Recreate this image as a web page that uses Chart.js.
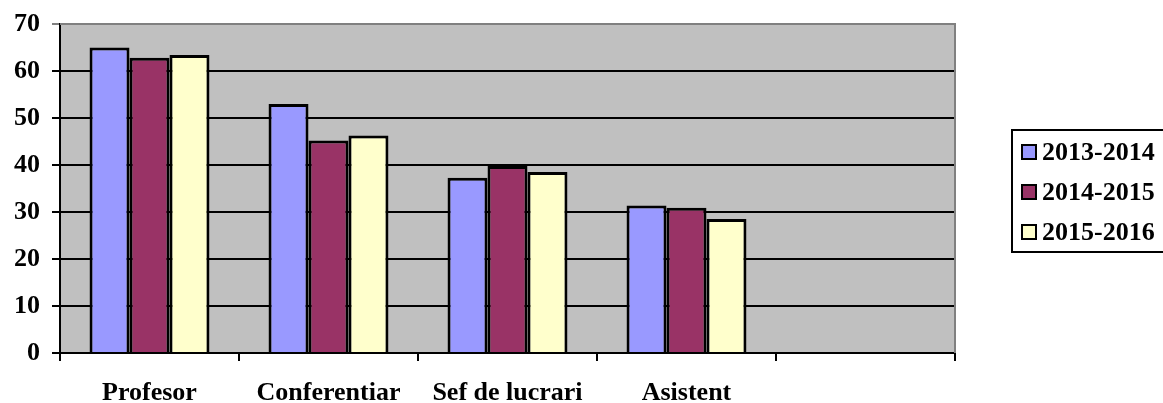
<!DOCTYPE html>
<html>
<head>
<meta charset="utf-8">
<title>Personal didactic</title>
<script src="https://cdn.jsdelivr.net/npm/chart.js@4.4.0/dist/chart.umd.min.js"></script>
<style>
    html, body { margin: 0; padding: 0; background: #fff; }
    #wrap { width: 1163px; height: 403px; position: relative; }
</style>
</head>
<body>
<div id="wrap"><canvas id="chart"></canvas></div>
<script>
// Data
const categories = ['Profesor', 'Conferentiar', 'Sef de lucrari', 'Asistent', ''];
const years = ['2013-2014', '2014-2015', '2015-2016'];
const values2013 = [65.0, 53.0, 37.3, 31.4];
const values2014 = [62.8, 45.2, 39.8, 30.9];
const values2015 = [63.4, 46.3, 38.5, 28.5];
const colors = ['#9999FF', '#993366', '#FFFFCC'];
const yTicks = [0, 10, 20, 30, 40, 50, 60, 70];

const FONT = { family: '"Liberation Serif", "DejaVu Serif", serif', size: 26, weight: 'bold' };

// gray plot background plus the gray frame on top/right
const plotArea = {
    id: 'plotArea',
    beforeDraw(chart) {
        const { ctx, chartArea: a } = chart;
        ctx.save();
        ctx.fillStyle = '#C0C0C0';
        ctx.fillRect(a.left, a.top, a.right - a.left, a.bottom - a.top);
        ctx.restore();
    },
    afterDatasetsDraw(chart) {
        const { ctx, chartArea: a } = chart;
        ctx.save();
        ctx.strokeStyle = '#808080';
        ctx.lineWidth = 2;
        ctx.beginPath();
        ctx.moveTo(a.left, a.top);
        ctx.lineTo(a.right, a.top);
        ctx.lineTo(a.right, a.bottom);
        ctx.stroke();
        ctx.restore();
    }
};

// boxed legend at the right, drawn by hand
const boxLegend = {
    id: 'boxLegend',
    afterDraw(chart) {
        const ctx = chart.ctx;
        ctx.save();
        ctx.fillStyle = '#fff';
        ctx.strokeStyle = '#000';
        ctx.lineWidth = 2;
        ctx.fillRect(1012, 130, 160, 122);
        ctx.strokeRect(1012, 130, 160, 122);
        ctx.font = `bold ${FONT.size}px ${FONT.family}`;
        ctx.textBaseline = 'middle';
        chart.data.datasets.forEach((ds, i) => {
            const cy = 152 + i * 40;
            ctx.fillStyle = ds.backgroundColor;
            ctx.fillRect(1022, cy - 7, 14, 14);
            ctx.strokeStyle = '#000';
            ctx.lineWidth = 2;
            ctx.strokeRect(1022, cy - 7, 14, 14);
            ctx.fillStyle = '#000';
            ctx.fillText(ds.label, 1042, cy + 1);
        });
        ctx.restore();
    }
};

const seriesValues = [values2013, values2014, values2015];

new Chart(document.getElementById('chart'), {
    type: 'bar',
    data: {
        labels: categories,
        datasets: years.map((y, i) => ({
            label: y,
            data: seriesValues[i],
            backgroundColor: colors[i],
            borderColor: '#000',
            borderWidth: 3,
            barPercentage: 1,
            categoryPercentage: 0.67
        }))
    },
    options: {
        responsive: true,
        maintainAspectRatio: false,
        animation: false,
        layout: { padding: { top: 24, right: 208, left: 0, bottom: 0 } },
        plugins: {
            legend: { display: false },
            tooltip: { enabled: false }
        },
        scales: {
            x: {
                afterFit(scale) { scale.height = 50; },
                grid: {
                    offset: true,
                    drawOnChartArea: false,
                    drawTicks: true,
                    tickLength: 8,
                    color: '#000',
                    lineWidth: 2
                },
                border: { display: true, color: '#000', width: 2 },
                ticks: { color: '#000', font: FONT, padding: 17, maxRotation: 0, autoSkip: false }
            },
            y: {
                min: 0,
                max: 70,
                afterFit(scale) { scale.width = 60; scale.paddingTop = 0; },
                afterBuildTicks(scale) { scale.ticks = yTicks.map(v => ({ value: v })); },
                grid: {
                    color: ctx => (ctx.tick && ctx.tick.value === 70 ? '#808080' : '#000'),
                    lineWidth: 2,
                    drawTicks: true,
                    tickLength: 8
                },
                border: { display: true, color: '#000', width: 2 },
                ticks: { color: '#000', font: FONT, padding: 12 }
            }
        }
    },
    plugins: [plotArea, boxLegend]
});
</script>
</body>
</html>
